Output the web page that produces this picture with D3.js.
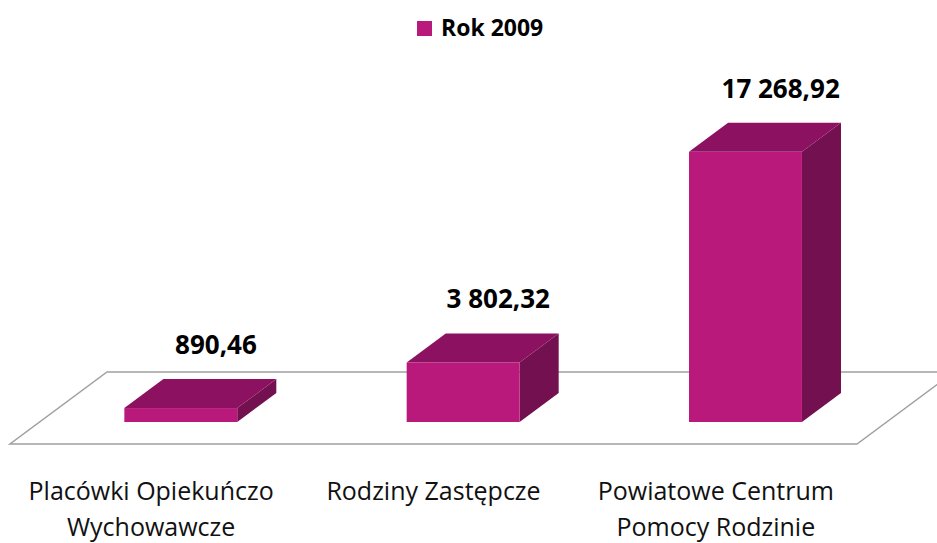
<!DOCTYPE html>
<html>
<head>
<meta charset="utf-8">
<script src="https://d3js.org/d3.v7.min.js" charset="utf-8"></script>
<style>
    body { margin: 0; background: #fff; }
    svg { display: block; font-family: "Open Sans", Lato, sans-serif; }
</style>
</head>
<body>
<script>
    // data
    var categories = [
        ["Placówki Opiekuńczo", "Wychowawcze"],
        ["Rodziny Zastępcze"],
        ["Powiatowe Centrum", "Pomocy Rodzinie"]
    ];
    var values = [890.46, 3802.32, 17268.92];
    var seriesName = "Rok 2009";

    //Width and height
    var w = 937;
    var h = 543;

    // 3d look
    var floorFront = 444, floorBack = 372;
    var slant = 97 / 72;          // dx per dy of the depth axis
    var baseY = 422;              // where the bars stand
    var barDepthY = 29;
    var barDepthX = barDepthY * slant;
    var baseShift = (floorFront - baseY) * slant;

    var pl = d3.formatLocale({decimal: ",", thousands: " ", grouping: [3]});
    var fmt = pl.format(",.2f");

    var svg = d3.select("body")
                .append("svg")
                .attr("width", w)
                .attr("height", h);

    var x = d3.scaleBand()
              .domain(d3.range(categories.length))
              .range([10, 857])
              .paddingInner(0)
              .paddingOuter(0);

    var y = d3.scaleLinear()
              .domain([0, 20000])
              .range([baseY, 109]);

    // floor
    var fd = (floorFront - floorBack) * slant;
    svg.append("path")
        .attr("d", "M" + x.range()[0] + "," + floorFront +
                   " L" + x.range()[1] + "," + floorFront +
                   " L" + (x.range()[1] + fd) + "," + floorBack +
                   " L" + (x.range()[0] + fd) + "," + floorBack + " Z")
        .attr("fill", "#fff")
        .attr("stroke", "#a0a0a0")
        .attr("stroke-width", 1.5);

    var barW = x.bandwidth() * 0.4;

    var bars = svg.selectAll("g.bar")
        .data(values)
        .enter()
        .append("g")
        .attr("class", "bar");

    function left(d, i) { return x(i) + x.bandwidth() / 2 + baseShift - barW / 2; }

    // right side
    bars.append("path")
        .attr("fill", "#73104f")
        .attr("d", function(d, i) {
            var x1 = left(d, i) + barW;
            return "M" + x1 + "," + baseY + " L" + x1 + "," + y(d) +
                   " L" + (x1 + barDepthX) + "," + (y(d) - barDepthY) +
                   " L" + (x1 + barDepthX) + "," + (baseY - barDepthY) + " Z";
        });

    // top
    bars.append("path")
        .attr("fill", "#8c1261")
        .attr("d", function(d, i) {
            var x0 = left(d, i), yt = y(d);
            return "M" + x0 + "," + yt + " L" + (x0 + barW) + "," + yt +
                   " L" + (x0 + barW + barDepthX) + "," + (yt - barDepthY) +
                   " L" + (x0 + barDepthX) + "," + (yt - barDepthY) + " Z";
        });

    // front
    bars.append("rect")
        .attr("fill", "#b8197b")
        .attr("x", left)
        .attr("y", function(d) { return y(d); })
        .attr("width", barW)
        .attr("height", function(d) { return baseY - y(d); });

    // value labels
    bars.append("text")
        .attr("x", function(d, i) { return left(d, i) + barW / 2 + barDepthX * 0.9; })
        .attr("y", function(d) { return y(d) - barDepthY - 25; })
        .attr("text-anchor", "middle")
        .attr("font-weight", "bold")
        .attr("font-size", 26)
        .attr("fill", "#000")
        .text(function(d) { return fmt(d); });

    // category labels
    var cat = svg.selectAll("text.cat")
        .data(categories)
        .enter()
        .append("text")
        .attr("class", "cat")
        .attr("text-anchor", "middle")
        .attr("font-size", 25)
        .attr("fill", "#111");

    cat.selectAll("tspan")
        .data(function(d, i) { return d.map(function(s) { return {s: s, i: i}; }); })
        .enter()
        .append("tspan")
        .attr("x", function(d) { return x(d.i) + x.bandwidth() / 2; })
        .attr("y", function(d, j) { return 500 + j * 36; })
        .text(function(d) { return d.s; });

    // legend
    var lg = svg.append("g");
    lg.append("rect")
        .attr("x", 417).attr("y", 21)
        .attr("width", 15).attr("height", 15)
        .attr("fill", "#b8197b");
    lg.append("text")
        .attr("x", 441).attr("y", 36)
        .attr("font-weight", "bold")
        .attr("font-size", 23)
        .text(seriesName);
</script>
</body>
</html>
